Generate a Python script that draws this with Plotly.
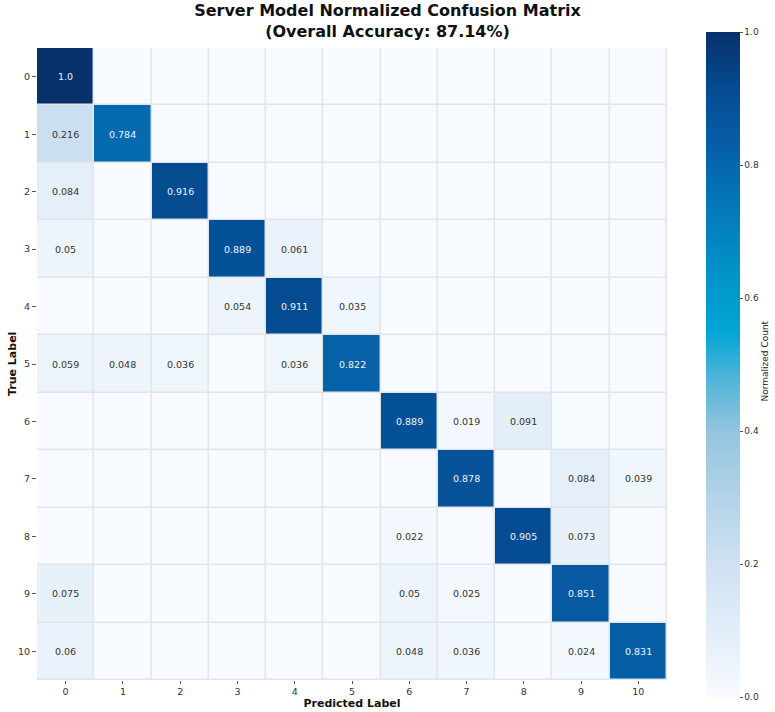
import plotly.graph_objects as go

# Confusion matrix data (rows = true label, cols = predicted label)
labels = [str(i) for i in range(11)]
row0 = [1.0, 0, 0, 0, 0, 0, 0, 0, 0, 0, 0]
row1 = [0.216, 0.784, 0, 0, 0, 0, 0, 0, 0, 0, 0]
row2 = [0.084, 0, 0.916, 0, 0, 0, 0, 0, 0, 0, 0]
row3 = [0.05, 0, 0, 0.889, 0.061, 0, 0, 0, 0, 0, 0]
row4 = [0, 0, 0, 0.054, 0.911, 0.035, 0, 0, 0, 0, 0]
row5 = [0.059, 0.048, 0.036, 0, 0.036, 0.822, 0, 0, 0, 0, 0]
row6 = [0, 0, 0, 0, 0, 0, 0.889, 0.019, 0.091, 0, 0]
row7 = [0, 0, 0, 0, 0, 0, 0, 0.878, 0, 0.084, 0.039]
row8 = [0, 0, 0, 0, 0, 0, 0.022, 0, 0.905, 0.073, 0]
row9 = [0.075, 0, 0, 0, 0, 0, 0.05, 0.025, 0, 0.851, 0]
row10 = [0.06, 0, 0, 0, 0, 0, 0.048, 0.036, 0, 0.024, 0.831]
matrix = [row0, row1, row2, row3, row4, row5, row6, row7, row8, row9, row10]
accuracy = 87.14

# Blues-like colour scale with the cyan midpoint seen in the reference
colorscale = [
    [0.0, "#f7fbff"],
    [0.1, "#e2edf8"],
    [0.2, "#cfe1f2"],
    [0.3, "#b3d3e8"],
    [0.4, "#93c5de"],
    [0.48, "#4fb4d9"],
    [0.55, "#00a6d3"],
    [0.65, "#0290c5"],
    [0.75, "#0474b7"],
    [0.85, "#0759a2"],
    [0.92, "#044a8f"],
    [1.0, "#08306b"],
]

fig = go.Figure()
fig.add_trace(go.Heatmap(
    z=matrix,
    x=labels,
    y=labels,
    zmin=0, zmax=1,
    colorscale=colorscale,
    xgap=1.5, ygap=1.5,
    colorbar=dict(
        x=1.062, xanchor="left", xpad=0,
        y=0.4992, yanchor="middle", ypad=0,
        len=1.052, thickness=34,
        outlinewidth=0,
        tickvals=[0, 0.2, 0.4, 0.6, 0.8, 1.0],
        ticktext=["0.0", "0.2", "0.4", "0.6", "0.8", "1.0"],
        ticks="outside", ticklen=3, tickcolor="#555",
        tickfont=dict(size=9, color="#333"),
    ),
    hovertemplate="True %{y}<br>Pred %{x}<br>%{z}<extra></extra>",
))

# Cell annotations for non-zero values
for i, row in enumerate(matrix):
    for j, v in enumerate(row):
        if v == 0:
            continue
        fig.add_annotation(
            x=labels[j], y=labels[i], text=str(v), showarrow=False,
            font=dict(size=9.5, color="#eef4fb" if v > 0.5 else "#333"),
        )

# colorbar label and y-axis title, placed like the reference
fig.add_annotation(
    text="Normalized Count", xref="paper", yref="paper",
    x=1.1556, y=0.504, xanchor="center", yanchor="middle",
    textangle=-90, showarrow=False,
    font=dict(size=9, color="#222"),
)
fig.add_annotation(
    text="<b>True Label</b>", xref="paper", yref="paper",
    x=-0.0397, y=0.5, xanchor="center", yanchor="middle",
    textangle=-90, showarrow=False,
    font=dict(size=11, color="#111"),
)

fig.update_layout(
    width=775, height=712,
    margin=dict(l=37, r=108, t=48, b=32, autoexpand=False),
    paper_bgcolor="white",
    plot_bgcolor="#e2e4e7",
    font=dict(family="DejaVu Sans", color="#333"),
    title=dict(
        text="<b>Server Model Normalized Confusion Matrix<br>(Overall Accuracy: %.2f%%)</b>" % accuracy,
        x=0.5, xanchor="center", xref="container", yref="container",
        y=0.977, yanchor="middle",
        font=dict(size=16, color="#111"),
    ),
)
fig.update_xaxes(
    title=dict(text="<b>Predicted Label</b>", font=dict(size=11, color="#111"), standoff=2),
    ticks="outside", ticklen=3, tickcolor="#555",
    tickfont=dict(size=9.5), showgrid=False, zeroline=False,
)
fig.update_yaxes(
    autorange="reversed",
    ticks="outside", ticklen=4, tickcolor="#555",
    tickfont=dict(size=9.5), showgrid=False, zeroline=False,
)

# drop the default page margin so the figure fills the window exactly
fig.write_html("out.html", config={"displayModeBar": False},
               post_script="document.body.style.margin = '0';")
